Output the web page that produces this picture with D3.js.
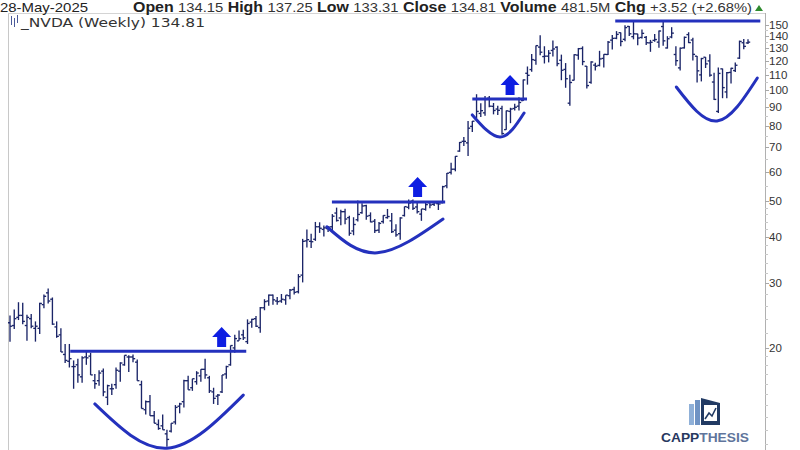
<!DOCTYPE html>
<html><head><meta charset="utf-8">
<script src="https://cdn.jsdelivr.net/npm/d3@7"></script>
<style>body{margin:0;background:#fff}svg{display:block}</style>
</head><body><svg id="c" width="800" height="450"></svg>
<script>
// Weekly NVDA OHLC, Jan-2022 .. 28-May-2025 (one entry per week)
const opens=[23.4,23.0,24.2,24.5,23.0,24.0,22.6,22.6,26.2,28.2,27.1,22.8,21.7,19.2,18.4,17.8,18.0,16.7,18.9,19.0,16.3,16.3,17.3,14.7,15.5,15.9,17.3,18.0,18.9,18.9,18.3,15.9,13.6,14.3,13.1,12.4,12.3,11.7,11.9,12.6,13.9,14.3,16.3,15.6,16.2,16.8,17.5,16.6,15.2,
14.8,15.2,17.0,18.0,20.0,20.9,21.7,20.8,23.5,24.0,22.7,25.7,26.8,27.8,26.8,26.8,27.0,27.7,28.8,28.4,31.5,39.0,38.9,39.4,42.6,41.9,42.1,42.6,46.4,45.0,46.8,45.1,41.5,44.5,46.5,48.6,45.7,44.1,41.7,44.0,45.1,44.2,41.7,40.8,45.7,48.1,50.0,48.2,46.1,47.5,49.5,49.0,
49.2,49.5,55.0,59.8,61.0,68.3,72.6,71.9,79.7,84.1,86.4,86.7,95.0,90.3,88.8,89.1,78.1,87.5,89.1,90.4,93.6,111.0,113.6,120.4,130.7,123.2,123.5,128.0,130.6,120.4,113.7,92.1,106.3,124.3,129.6,116.0,104.9,116.8,116.6,121.8,124.8,136.5,138.1,143.0,137.2,148.7,139.5,141.9,138.8,138.9,134.2,136.3,134.8,
148.6,130.0,139.2,124.8,114.8,130.1,141.3,136.6,123.5,109.9,122.7,119.9,105.1,87.5,114.1,98.8,111.6,112.9,122.0,134.3,134.15];
const highs=[24.5,25.4,26.6,26.5,24.6,24.7,23.6,26.5,27.9,29.0,27.4,23.6,22.6,20.5,20.5,18.5,18.7,19.0,19.6,19.4,17.0,17.4,17.6,15.9,16.0,17.7,18.3,19.1,19.1,19.2,18.6,16.3,14.4,14.9,13.5,12.8,13.2,12.0,12.5,14.0,14.2,16.4,16.8,16.5,17.3,17.5,18.7,16.8,15.6,
15.0,16.9,17.9,20.3,21.7,22.3,22.4,23.9,24.0,24.4,25.8,27.1,27.9,27.9,27.5,28.0,27.8,28.9,29.3,31.7,39.5,41.9,40.8,43.9,43.8,42.9,42.8,46.1,48.0,47.4,47.7,45.6,45.2,50.2,49.3,48.9,46.6,44.7,43.9,45.8,47.6,46.4,43.3,45.2,48.3,50.5,50.5,49.4,47.6,49.8,50.0,49.9,
49.6,55.0,59.6,63.5,66.2,72.3,74.6,82.4,82.4,97.4,92.0,96.4,96.3,92.2,90.6,90.6,88.0,89.5,91.8,95.6,106.7,115.8,125.2,132.0,140.8,131.4,128.3,136.1,131.4,124.7,118.3,110.0,125.0,130.0,131.3,116.2,119.7,118.6,127.7,125.0,135.8,140.9,144.4,143.1,149.8,149.0,152.9,142.1,145.8,140.0,136.7,141.9,144.9,
153.1,139.9,148.0,131.3,130.4,139.6,143.4,138.6,123.7,122.2,122.8,124.9,111.3,115.1,114.3,111.9,114.9,118.7,136.1,137.4,137.25];
const lows=[20.8,22.5,23.8,23.2,20.9,22.6,20.8,21.8,25.6,26.4,23.1,21.3,19.5,18.2,17.7,15.5,16.1,16.1,18.0,16.9,15.5,15.8,14.8,14.0,14.9,15.5,16.2,17.9,17.2,18.3,16.3,13.7,13.2,13.1,12.5,12.0,12.0,10.8,11.8,12.4,13.3,13.8,15.4,15.3,15.9,16.2,16.5,15.1,14.1,
14.0,15.1,16.5,17.9,19.4,20.9,21.0,20.5,22.7,22.8,22.0,25.3,26.0,26.2,26.2,26.5,26.2,27.1,27.9,28.1,30.1,37.4,37.3,39.0,41.0,40.1,41.2,41.5,44.0,43.0,43.3,40.3,40.4,44.0,46.2,44.5,43.8,41.0,41.0,43.5,44.8,41.0,40.0,39.3,45.4,47.5,47.3,46.3,44.2,47.1,47.8,48.5,
47.3,49.3,54.2,59.0,60.2,68.0,70.5,66.2,77.0,84.0,84.5,85.1,89.8,85.9,85.5,75.6,78.0,81.3,88.0,88.0,93.4,103.4,112.0,117.0,124.3,118.0,118.8,123.3,116.0,106.3,101.4,90.7,106.1,120.8,116.7,100.9,104.0,113.0,115.9,115.1,124.5,128.7,137.3,131.3,135.6,140.1,137.2,132.3,137.9,132.4,126.9,135.1,130.2,
131.8,129.5,138.1,116.3,113.0,129.5,134.0,120.2,104.8,105.5,114.7,108.7,94.0,86.6,95.0,95.0,104.1,111.8,121.4,129.0,133.31];
const closes=[22.9,24.0,24.5,23.6,24.2,22.9,22.9,26.4,27.6,26.8,23.2,21.5,19.5,18.5,18.7,17.8,16.9,18.8,18.8,16.9,16.0,17.1,15.2,15.8,15.5,17.4,18.2,19.1,18.9,18.7,16.3,13.7,14.3,13.1,12.5,12.1,12.0,11.3,12.5,13.8,14.1,16.3,15.4,16.5,17.1,17.5,16.9,15.3,14.6,
14.9,16.9,17.8,20.3,21.2,21.2,21.3,23.3,23.9,22.9,25.7,26.7,27.8,27.0,26.7,27.1,27.8,28.7,28.3,31.2,38.9,39.3,38.8,42.6,42.2,42.3,42.5,45.5,44.3,46.8,44.7,40.9,43.2,46.0,48.5,45.5,43.9,41.6,43.5,45.7,45.4,41.3,40.5,45.0,48.3,49.4,47.8,46.8,47.6,48.9,48.8,49.5,
49.1,54.7,59.5,61.0,66.1,72.1,72.6,78.8,82.3,87.5,87.9,94.3,90.4,88.0,88.1,76.2,87.8,88.8,89.8,92.5,106.5,109.6,120.9,131.9,126.6,123.5,125.8,129.2,117.9,113.1,107.3,104.8,124.6,129.4,119.4,102.8,119.1,116.0,121.4,124.9,134.8,138.0,141.5,135.4,147.6,142.0,142.0,138.3,142.4,134.3,134.7,137.0,144.5,
135.9,137.7,142.6,120.1,129.8,138.9,134.4,124.9,112.7,121.7,117.7,109.7,94.3,110.9,101.5,111.4,114.5,116.7,135.4,131.3,134.81];
const tickValues=[150,140,130,120,110,100,90,80,70,60,50,40,30,20];
const minorTicks=[11,12,13,14,15,16,17,18,19,22,24,26,28,32,34,36,38,42,44,46,48,55,65,75,85,95,105,115,125,135,145];
// annotations in (week index, price)
const resistance=[{from:14.2,to:55.7,value:19.6},{from:75.9,to:102.6,value:49.7},{from:109,to:121.9,value:94.5},{from:142.7,to:176.9,value:153.8}];
const cups=[[[20,14.1],[37,10.7],[55,14.9]],[[74.7,42.6],[86.6,36.2],[102.1,44.7]],[[109,85.6],[115.6,74.6],[121.2,86.6]],[[157.1,101.9],[166.7,82.4],[176.2,107.8]]];
const arrows=[{at:49.9,value:22.8},{at:96.1,value:58.1},{at:117.9,value:109.8}];
const header=[["Open","134.15"],["High","137.25"],["Low","133.31"],["Close","134.81"],["Volume","481.5M"],["Chg","+3.52 (+2.68%)"]];

const svg=d3.select("#c");
const x=d3.scaleLinear().domain([0,174]).range([10,748]);
const y=d3.scaleLog().domain([10,100]).range([459,90]);
const L=8,R=765,T=13,B=450;

svg.append("defs").append("clipPath").attr("id","pc").append("rect").attr("x",L).attr("y",T).attr("width",R-L).attr("height",B-T);

// frame
svg.append("line").attr("x1",L+0.5).attr("x2",L+0.5).attr("y1",T).attr("y2",B).attr("stroke","#c8c8c8");
svg.append("line").attr("x1",L).attr("x2",R).attr("y1",T+0.5).attr("y2",T+0.5).attr("stroke","#d4d4d4");

// axis
const ax=svg.append("g").attr("transform",`translate(${R},0)`);
ax.append("line").attr("x1",0.5).attr("x2",0.5).attr("y1",T).attr("y2",B).attr("stroke","#b0b0b0");
ax.selectAll("line.mn").data(minorTicks).join("line").attr("class","mn")
  .attr("x1",0).attr("x2",3).attr("y1",d=>Math.round(y(d))+0.5).attr("y2",d=>Math.round(y(d))+0.5).attr("stroke","#c8c8c8");
ax.selectAll("line.mj").data(tickValues).join("line").attr("class","mj")
  .attr("x1",0).attr("x2",4).attr("y1",d=>Math.round(y(d))+0.5).attr("y2",d=>Math.round(y(d))+0.5).attr("stroke","#a8a8a8");
ax.selectAll("text").data(tickValues).join("text")
  .attr("x",4).attr("y",d=>y(d)).attr("dy","0.36em")
  .attr("font-family","Liberation Sans, Arial, sans-serif").attr("font-size",11.5).attr("fill","#333")
  .text(d=>d);

const plot=svg.append("g").attr("clip-path","url(#pc)");

// OHLC bars
const idx=d3.range(closes.length);
const barCol="#1b2568";
const bars=plot.append("g").attr("stroke",barCol).attr("stroke-width",1.35);
bars.selectAll("line.hl").data(idx).join("line").attr("class","hl")
  .attr("x1",i=>x(i)).attr("x2",i=>x(i)).attr("y1",i=>y(highs[i])).attr("y2",i=>y(lows[i]));
bars.selectAll("line.o").data(idx).join("line").attr("class","o")
  .attr("x1",i=>x(i)-2.2).attr("x2",i=>x(i)).attr("y1",i=>y(opens[i])).attr("y2",i=>y(opens[i]));
bars.selectAll("line.c").data(idx).join("line").attr("class","c")
  .attr("x1",i=>x(i)).attr("x2",i=>x(i)+2.2).attr("y1",i=>y(closes[i])).attr("y2",i=>y(closes[i]));

// annotations
const annCol="#2431bd";
plot.selectAll("line.res").data(resistance).join("line").attr("class","res")
  .attr("x1",d=>x(d.from)).attr("x2",d=>x(d.to)).attr("y1",d=>y(d.value)).attr("y2",d=>y(d.value))
  .attr("stroke",annCol).attr("stroke-width",3);
const cupLine=d3.line().x(d=>x(d[0])).y(d=>y(d[1])).curve(d3.curveNatural);
plot.selectAll("path.cup").data(cups).join("path").attr("class","cup")
  .attr("d",cupLine).attr("fill","none").attr("stroke",annCol).attr("stroke-width",3).attr("stroke-linecap","round");
const arrowShape=[[0,0],[9.5,10],[4.5,10],[4.5,20],[-4.5,20],[-4.5,10],[-9.5,10]];
plot.selectAll("path.arr").data(arrows).join("path").attr("class","arr")
  .attr("transform",d=>`translate(${x(d.at)},${y(d.value)})`)
  .attr("d","M"+arrowShape.map(p=>p.join(",")).join("L")+"Z").attr("fill","#0e1ee2");

// header
svg.append("text").attr("x",0).attr("y",12).attr("font-family","Liberation Sans, Arial, sans-serif")
  .attr("font-size",13.5).attr("fill","#222").attr("textLength",88).attr("lengthAdjust","spacingAndGlyphs").text("28-May-2025");
const ht=svg.append("text").attr("x",133).attr("y",12).attr("font-family","Liberation Sans, Arial, sans-serif").attr("fill","#222")
  .attr("textLength",619).attr("lengthAdjust","spacingAndGlyphs");
header.forEach((h,k)=>{
  ht.append("tspan").attr("font-weight","bold").attr("font-size",14).text((k?"  ":"")+h[0]+" ");
  ht.append("tspan").attr("font-size",13).attr("fill","#333").text(h[1]);
});
svg.append("path").attr("d","M755,11 L759,5 L763,11 Z").attr("fill","#2e8b2e");

// symbol label
const ic=svg.append("g").attr("stroke","#4a5a9a").attr("stroke-width",1);
[[11,16,25],[14,18,27],[17,15,23]].forEach(d=>ic.append("line").attr("x1",d[0]+0.5).attr("x2",d[0]+0.5).attr("y1",d[1]).attr("y2",d[2]));
svg.append("text").attr("x",21).attr("y",27).attr("font-family","DejaVu Sans, Verdana, sans-serif").attr("font-size",12.5)
  .attr("fill","#333").attr("textLength",184).attr("lengthAdjust","spacingAndGlyphs").text("_NVDA (Weekly) 134.81");

// logo
const lg=svg.append("g");
lg.append("rect").attr("x",689).attr("y",404).attr("width",5).attr("height",21).attr("fill","#8fb0d8");
lg.append("rect").attr("x",695).attr("y",400).attr("width",5).attr("height",25).attr("fill","#6f93c4");
lg.append("path").attr("d","M701,398 L720,403 L720,425 L701,425 Z").attr("fill","#213a63");
lg.append("rect").attr("x",704).attr("y",405).attr("width",13).attr("height",16).attr("fill","#fff");
lg.append("path").attr("d","M705,419 L709,413 L712,416 L716,408").attr("fill","none").attr("stroke","#213a63").attr("stroke-width",1.6);
const lt=lg.append("text").attr("x",661).attr("y",442).attr("font-family","Liberation Sans, Arial, sans-serif").attr("font-weight","bold")
  .attr("font-size",13).attr("textLength",88).attr("lengthAdjust","spacingAndGlyphs");
lt.append("tspan").attr("fill","#28385f").text("CAPP");
lt.append("tspan").attr("fill","#60759c").text("THESIS");
</script></body></html>
